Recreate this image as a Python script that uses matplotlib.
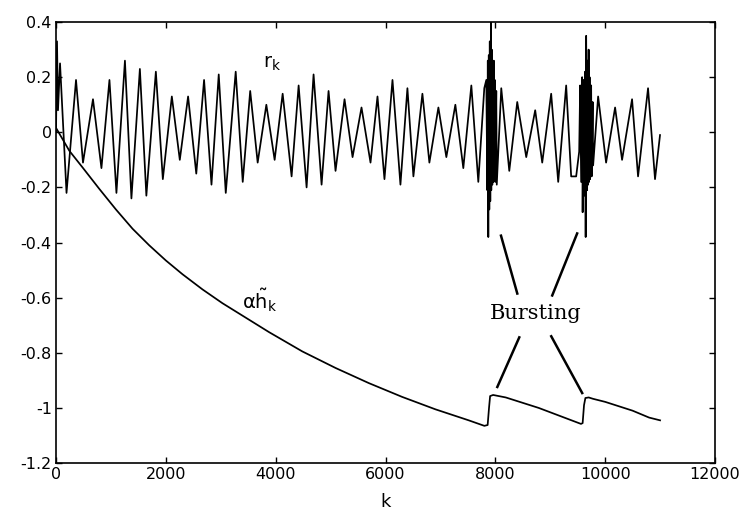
import numpy as np
import matplotlib
matplotlib.use("Agg")
import matplotlib.pyplot as plt

plt.rcParams['font.family'] = ['DejaVu Sans']
plt.rcParams['axes.unicode_minus'] = False
plt.rcParams['mathtext.fontset'] = 'dejavusans'

# r_k : peaks and troughs (k, value)
r_k = [0, 18, 36, 73, 191, 364, 491, 673, 827, 973, 1100, 1255, 1373, 1527, 1645,
       1818, 1945, 2109, 2254, 2405, 2554, 2696, 2831, 2963, 3091, 3272, 3400, 3536,
       3672, 3830, 3981, 4127, 4290, 4418, 4563, 4690, 4836, 4963, 5090, 5254, 5400,
       5563, 5727, 5854, 5981, 6127, 6272, 6399, 6508, 6672, 6799, 6963, 7108, 7272,
       7417, 7563, 7690, 7799,
       # first burst
       7836, 7854, 7863, 7872, 7881, 7890, 7899, 7908, 7921, 7926, 7935, 7945, 7954,
       7963, 7972, 7981, 7990, 7999, 8017, 8026,
       8108, 8254, 8399, 8563, 8726, 8854, 9017, 9145, 9290, 9381, 9472,
       # second burst
       9527, 9545, 9563, 9581, 9590, 9608, 9617, 9635, 9645, 9654, 9672, 9681, 9690,
       9699, 9708, 9717, 9726, 9745, 9754, 9772, 9781,
       9872, 10017, 10181, 10308, 10490, 10599, 10781, 10908, 10999]
r_val = [0.00, 0.33, 0.08, 0.25, -0.22, 0.19, -0.11, 0.12, -0.13, 0.19, -0.22, 0.26,
         -0.24, 0.23, -0.23, 0.22, -0.17, 0.13, -0.10, 0.13, -0.15, 0.19, -0.19, 0.21,
         -0.22, 0.22, -0.18, 0.15, -0.11, 0.10, -0.10, 0.14, -0.16, 0.17, -0.20, 0.21,
         -0.19, 0.15, -0.14, 0.12, -0.09, 0.09, -0.11, 0.13, -0.17, 0.19, -0.19, 0.16,
         -0.16, 0.14, -0.11, 0.09, -0.09, 0.10, -0.13, 0.17, -0.18, 0.16,
         0.19, -0.21, 0.26, -0.38, 0.28, -0.28, 0.33, -0.25, 0.40, -0.21, 0.30, -0.19,
         0.22, -0.18, 0.26, -0.14, 0.19, -0.18, 0.15, -0.19,
         0.16, -0.14, 0.11, -0.09, 0.08, -0.11, 0.14, -0.18, 0.17, -0.16, -0.16,
         -0.07, 0.17, -0.18, 0.20, -0.29, 0.19, -0.23, 0.22, -0.38, 0.35, -0.21, 0.26,
         -0.19, 0.30, -0.18, 0.20, -0.17, 0.17, -0.16, 0.11, -0.12,
         0.13, -0.11, 0.09, -0.10, 0.12, -0.16, 0.16, -0.17, -0.01]

# alpha * h~_k
h_k = [0, 242, 485, 787, 1091, 1394, 1697, 2000, 2303, 2667, 3030, 3394, 3879, 4485,
       5090, 5697, 6303, 6908, 7515, 7800, 7860, 7885, 7905, 7960, 8190, 8790, 9560,
       9590, 9615, 9640, 9700, 9780, 10000, 10500, 10800, 11000]
h_val = [0.016, -0.067, -0.128, -0.205, -0.28, -0.35, -0.41, -0.465, -0.515, -0.57,
         -0.62, -0.665, -0.725, -0.795, -0.855, -0.91, -0.96, -1.005, -1.045, -1.065,
         -1.062, -1.0, -0.957, -0.953, -0.962, -1.0, -1.058, -1.055, -0.99, -0.964,
         -0.962, -0.967, -0.978, -1.01, -1.035, -1.045]

x_ticks = [0, 2000, 4000, 6000, 8000, 10000, 12000]
y_ticks = [0.4, 0.2, 0, -0.2, -0.4, -0.6, -0.8, -1, -1.2]
y_labels = ['0.4', '0.2', '0', '-0.2', '-0.4', '-0.6', '-0.8', '-1', '-1.2']

fig = plt.figure(figsize=(7.44, 5.25), dpi=100)
ax = fig.add_axes([0.0753, 0.118, 0.8857, 0.840])

ax.plot(r_k, r_val, color='black', lw=1.25, solid_joinstyle='round')
ax.plot(h_k, h_val, color='black', lw=1.25, solid_joinstyle='round')

ax.set_xlim(0, 12000)
ax.set_ylim(-1.2, 0.4)
ax.set_xticks(x_ticks)
ax.set_xticklabels([str(t) for t in x_ticks])
ax.set_yticks(y_ticks)
ax.set_yticklabels(y_labels)
ax.tick_params(direction='in', length=4, width=1, top=True, right=True,
               labelsize=11.5, pad=3, colors='black')
for s in ax.spines.values():
    s.set_linewidth(1.2)

ax.set_xlabel('k', fontsize=13, labelpad=8)

ax.text(3930, 0.25, r'$\mathregular{r_k}$', fontsize=14, ha='center', va='center')
ax.text(3700, -0.61, r'$\mathregular{\alpha\tilde{h}_k}$', fontsize=14,
        ha='center', va='center')
ax.text(8727, -0.657, 'Bursting', family='DejaVu Serif', fontsize=15,
        ha='center', va='center')

# pointer lines from the label
lw_a = 1.8
ax.plot([8103, 8400], [-0.375, -0.585], color='black', lw=lw_a)
ax.plot([9490, 9036], [-0.367, -0.592], color='black', lw=lw_a)
ax.plot([8436, 8036], [-0.744, -0.924], color='black', lw=lw_a)
ax.plot([9018, 9582], [-0.740, -0.946], color='black', lw=lw_a)

fig.savefig('out.png', dpi=100)
